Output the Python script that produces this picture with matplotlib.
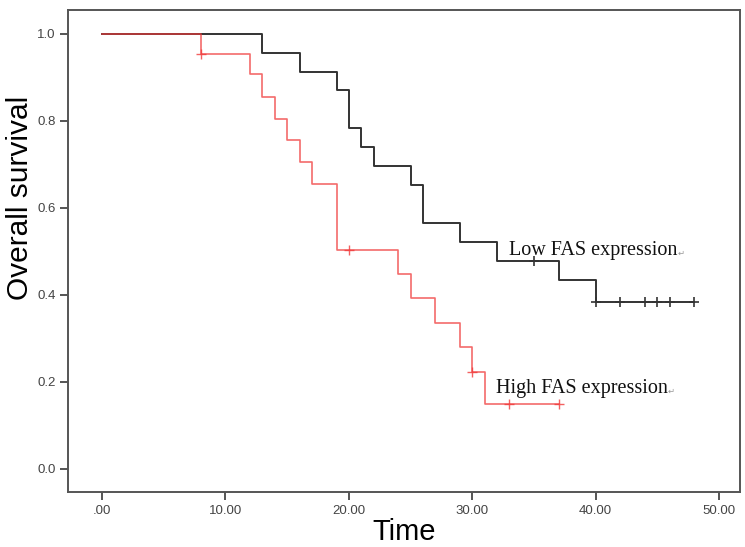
import numpy as np
import matplotlib
matplotlib.use("Agg")
import matplotlib.pyplot as plt

# Kaplan-Meier steps
low_t = [0, 13, 16, 19, 20, 21, 22, 25, 26, 29, 32, 37, 40, 48]
low_s = [1.0, 0.957, 0.913, 0.870, 0.783, 0.739, 0.696, 0.652, 0.565, 0.522, 0.478, 0.435, 0.383, 0.383]
low_cens_t = [35, 40, 42, 44, 45, 46, 48]
low_cens_s = [0.478, 0.383, 0.383, 0.383, 0.383, 0.383, 0.383]

high_t = [0, 8, 12, 13, 14, 15, 16, 17, 19, 24, 25, 27, 29, 30, 31, 37]
high_s = [1.0, 0.955, 0.909, 0.856, 0.805, 0.756, 0.705, 0.655, 0.503, 0.448, 0.392, 0.336, 0.280, 0.224, 0.149, 0.149]
high_cens_t = [8, 20, 30, 33, 37]
high_cens_s = [0.955, 0.503, 0.224, 0.149, 0.149]

xticks = [0, 10, 20, 30, 40, 50]
xticklabels = [".00", "10.00", "20.00", "30.00", "40.00", "50.00"]
yticks = [0.0, 0.2, 0.4, 0.6, 0.8, 1.0]

black = "#333333"
red = "#f03a3a"
grey = "#555555"

fig = plt.figure(figsize=(7.45, 5.47), dpi=100)
ax = fig.add_axes([0.0913, 0.1005, 0.9020, 0.8812])

ax.step(low_t, low_s, where="post", color=black, lw=1.4)
ax.plot(low_cens_t, low_cens_s, ls="none", marker="+", ms=7, mew=1.2, color=black)
ax.step(high_t, high_s, where="post", color=red, lw=1.2, alpha=0.75)
ax.plot(high_cens_t, high_cens_s, ls="none", marker="+", ms=7, mew=1.0, color=red, alpha=0.8)

ax.set_xlim(-2.76, 51.7)
ax.set_ylim(-0.053, 1.055)
ax.set_xticks(xticks)
ax.set_xticklabels(xticklabels)
ax.set_yticks(yticks)
ax.set_yticklabels([f"{v:.1f}" for v in yticks])

for sp in ax.spines.values():
    sp.set_color(grey)
    sp.set_linewidth(1.4)
ax.tick_params(direction="out", length=6, width=1.4, color=grey,
               labelcolor="#444444", labelsize=9.5, pad=3)
for lab in ax.get_xticklabels() + ax.get_yticklabels():
    lab.set_family("Liberation Sans")

ax.set_xlabel("Time", fontsize=21, family="Liberation Sans", labelpad=1)
ax.set_ylabel("Overall survival", fontsize=21.5, family="Liberation Sans")
ax.yaxis.set_label_coords(-0.050, 0.61)

for txt, x, y in [("Low FAS expression", 33.0, 0.503), ("High FAS expression", 31.9, 0.186)]:
    t = ax.text(x, y, txt, fontsize=14.5, family="Liberation Serif", color="#111111",
                ha="left", va="center")
    ax.annotate("\u21b5", xy=(1, 0.1), xycoords=t, fontsize=6, color="#999999",
                family="DejaVu Sans", va="bottom", ha="left")

fig.savefig("out.png", dpi=100)
